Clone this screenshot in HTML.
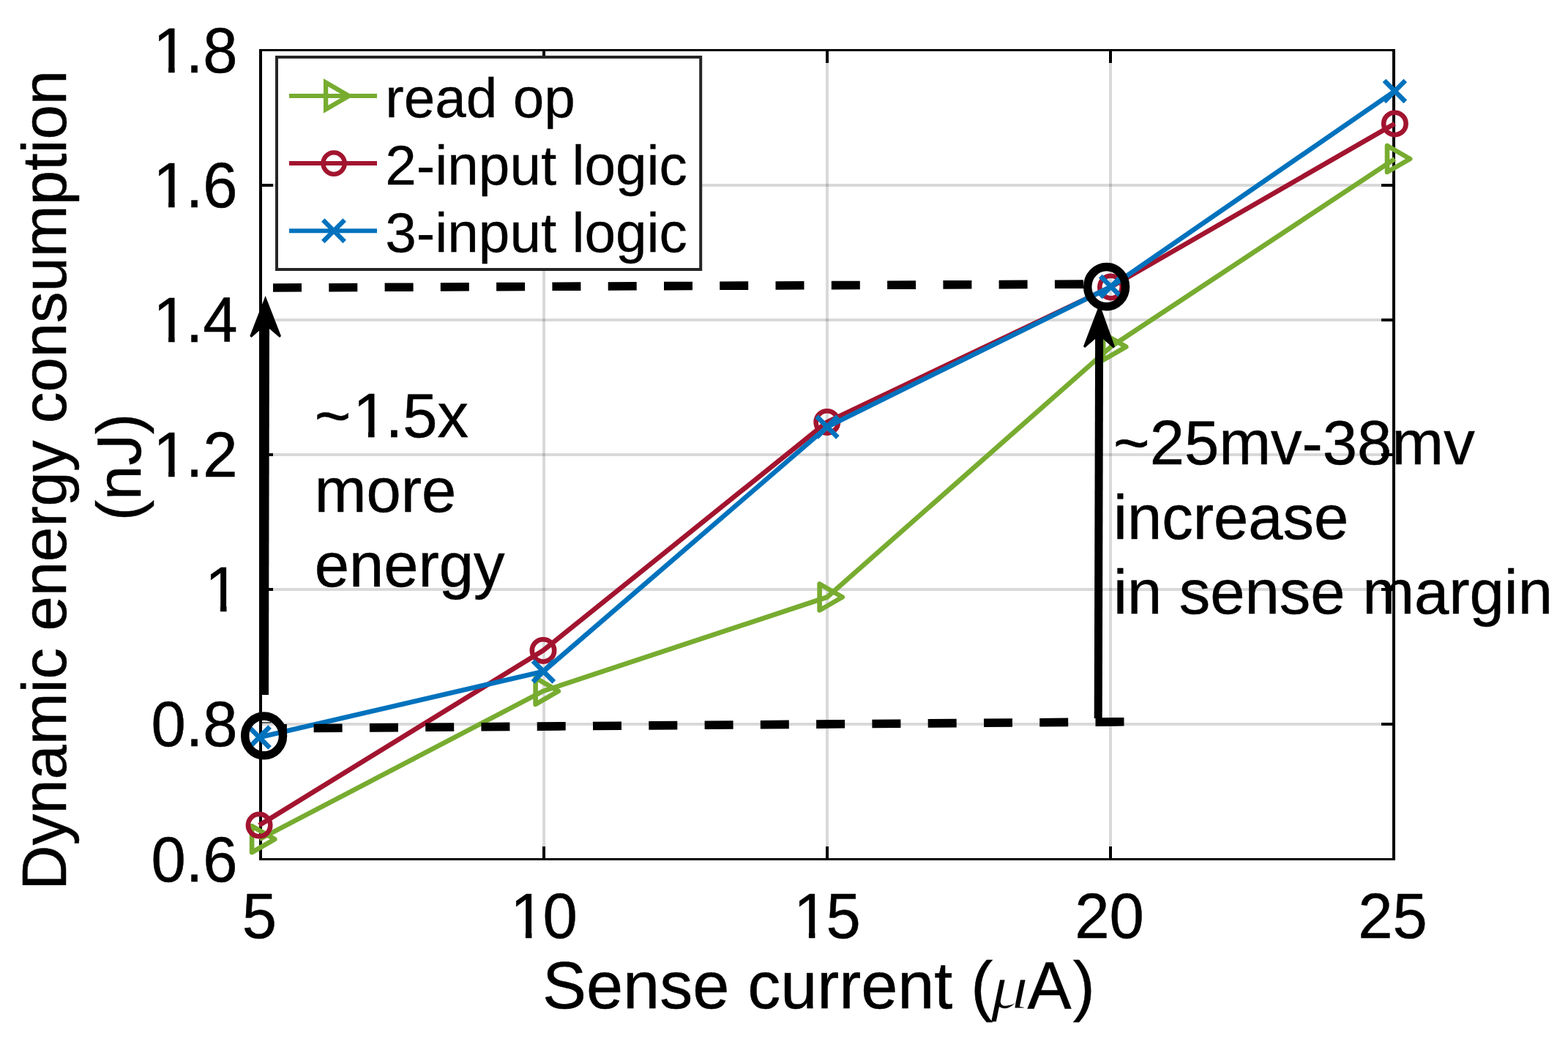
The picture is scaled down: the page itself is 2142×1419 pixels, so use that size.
<!DOCTYPE html>
<html lang="en"><head><meta charset="utf-8"><title>Dynamic energy consumption vs sense current</title>
<style>html,body{margin:0;padding:0;background:#fff;}body{width:2142px;height:1419px;overflow:hidden;}svg{display:block;}text{font-family:'Liberation Sans','DejaVu Sans',sans-serif;fill:#000;}</style>
</head><body>
<svg width="2142" height="1419" viewBox="0 0 2142 1419">
<rect x="0" y="0" width="2142" height="1419" fill="#fff"/>
<g fill="#000" fill-opacity="0.15">
<rect x="741" y="70" width="4" height="1102"/>
<rect x="1128" y="70" width="4" height="1102"/>
<rect x="1515" y="70" width="4" height="1102"/>
<rect x="358" y="251" width="1544" height="4"/>
<rect x="358" y="435" width="1544" height="4"/>
<rect x="358" y="619" width="1544" height="4"/>
<rect x="358" y="803" width="1544" height="4"/>
<rect x="358" y="987" width="1544" height="4"/>
</g>
<g fill="#000">
<rect x="354" y="67" width="4" height="1108"/>
<rect x="1902" y="67" width="4" height="1108"/>
<rect x="354" y="67" width="1552" height="3"/>
<rect x="354" y="1172" width="1552" height="3"/>
<rect x="741" y="1156" width="4" height="16"/>
<rect x="741" y="70" width="4" height="16"/>
<rect x="1128" y="1156" width="4" height="16"/>
<rect x="1128" y="70" width="4" height="16"/>
<rect x="1515" y="1156" width="4" height="16"/>
<rect x="1515" y="70" width="4" height="16"/>
<rect x="358" y="251" width="15" height="4"/>
<rect x="1887" y="251" width="15" height="4"/>
<rect x="358" y="435" width="15" height="4"/>
<rect x="1887" y="435" width="15" height="4"/>
<rect x="358" y="619" width="15" height="4"/>
<rect x="1887" y="619" width="15" height="4"/>
<rect x="358" y="803" width="15" height="4"/>
<rect x="1887" y="803" width="15" height="4"/>
<rect x="358" y="986.3" width="12.3" height="1.2"/>
<rect x="1887" y="987" width="15" height="4"/>
</g>
<g stroke="#77AC30" stroke-width="6.6" fill="none" stroke-linejoin="round">
<polyline points="354.5,1146.1 742.0,943.9 1130.0,815.5 1517.5,473.6 1905.4,217.0"/>
<polygon points="344.1,1128.1 344.1,1164.1 375.3,1146.1"/>
<polygon points="731.6,925.9 731.6,961.9 762.8,943.9"/>
<polygon points="1119.6,797.5 1119.6,833.5 1150.8,815.5"/>
<polygon points="1507.1,455.6 1507.1,491.6 1538.3,473.6"/>
<polygon points="1895.0,199.0 1895.0,235.0 1926.2,217.0"/>
</g>
<g stroke="#A2142F" stroke-width="6.6" fill="none" stroke-linejoin="round">
<polyline points="354.1,1127.1 742.0,888.4 1129.8,576.4 1517.5,392.0 1905.4,168.9"/>
<circle cx="354.1" cy="1127.1" r="15.2"/>
<circle cx="742.0" cy="888.4" r="15.2"/>
<circle cx="1129.8" cy="576.4" r="15.2"/>
<circle cx="1517.5" cy="392.0" r="15.2"/>
<circle cx="1905.4" cy="168.9" r="15.2"/>
</g>
<g stroke="#0072BD" stroke-width="6.6" fill="none" stroke-linejoin="round">
<polyline points="354.2,1007.0 742.4,917.0 1130.0,583.0 1517.7,391.5 1905.4,124.4"/>
<path d="M339.8 992.6L368.6 1021.4M339.8 1021.4L368.6 992.6"/>
<path d="M728.0 902.6L756.8 931.4M728.0 931.4L756.8 902.6"/>
<path d="M1115.6 568.6L1144.4 597.4M1115.6 597.4L1144.4 568.6"/>
<path d="M1503.3 377.1L1532.1 405.9M1503.3 405.9L1532.1 377.1"/>
<path d="M1891.0 110.0L1919.8 138.8M1891.0 138.8L1919.8 110.0"/>
</g>
<text transform="translate(330.86,1281.00) scale(1,1.030)" font-size="85" stroke="#000" stroke-width="0.50">5</text>
<g transform="translate(694.22,1281.00) scale(1,1.030)"><clipPath id="k1"><rect x="-30" y="-102.00" width="154.55" height="94.05"/><rect x="23.68" y="-8.95" width="8.51" height="10.95"/><rect x="47.28" y="-8.95" width="47.28" height="41.95"/></clipPath><text x="0" y="0" dx="2.80 -2.80" font-size="85" clip-path="url(#k1)" stroke="#000" stroke-width="0.50">10</text></g>
<g transform="translate(1081.22,1281.00) scale(1,1.030)"><clipPath id="k2"><rect x="-30" y="-102.00" width="154.55" height="94.05"/><rect x="23.68" y="-8.95" width="8.51" height="10.95"/><rect x="47.28" y="-8.95" width="47.28" height="41.95"/></clipPath><text x="0" y="0" dx="2.80 -2.80" font-size="85" clip-path="url(#k2)" stroke="#000" stroke-width="0.50">15</text></g>
<text transform="translate(1468.22,1281.00) scale(1,1.030)" font-size="85" stroke="#000" stroke-width="0.50">20</text>
<text transform="translate(1855.22,1281.00) scale(1,1.030)" font-size="85" stroke="#000" stroke-width="0.50">25</text>
<text transform="translate(206.43,1203.80) scale(1,1.030)" font-size="85" stroke="#000" stroke-width="0.50">0.6</text>
<text transform="translate(206.43,1019.30) scale(1,1.030)" font-size="85" stroke="#000" stroke-width="0.50">0.8</text>
<g transform="translate(277.32,835.30) scale(1,1.030)"><clipPath id="k3"><rect x="-30" y="-102.00" width="107.28" height="94.05"/><rect x="23.68" y="-8.95" width="8.51" height="10.95"/></clipPath><text x="0" y="0" dx="2.80" font-size="85" clip-path="url(#k3)" stroke="#000" stroke-width="0.50">1</text></g>
<g transform="translate(206.43,651.30) scale(1,1.030)"><clipPath id="k4"><rect x="-30" y="-102.00" width="178.17" height="94.05"/><rect x="23.68" y="-8.95" width="8.51" height="10.95"/><rect x="47.28" y="-8.95" width="23.61" height="41.95"/><rect x="70.89" y="-8.95" width="47.28" height="41.95"/></clipPath><text x="0" y="0" dx="2.80 -2.80 0.00" font-size="85" clip-path="url(#k4)" stroke="#000" stroke-width="0.50">1.2</text></g>
<g transform="translate(206.43,467.30) scale(1,1.030)"><clipPath id="k5"><rect x="-30" y="-102.00" width="178.17" height="94.05"/><rect x="23.68" y="-8.95" width="8.51" height="10.95"/><rect x="47.28" y="-8.95" width="23.61" height="41.95"/><rect x="70.89" y="-8.95" width="47.28" height="41.95"/></clipPath><text x="0" y="0" dx="2.80 -2.80 0.00" font-size="85" clip-path="url(#k5)" stroke="#000" stroke-width="0.50">1.4</text></g>
<g transform="translate(206.43,283.30) scale(1,1.030)"><clipPath id="k6"><rect x="-30" y="-102.00" width="178.17" height="94.05"/><rect x="23.68" y="-8.95" width="8.51" height="10.95"/><rect x="47.28" y="-8.95" width="23.61" height="41.95"/><rect x="70.89" y="-8.95" width="47.28" height="41.95"/></clipPath><text x="0" y="0" dx="2.80 -2.80 0.00" font-size="85" clip-path="url(#k6)" stroke="#000" stroke-width="0.50">1.6</text></g>
<g transform="translate(206.43,98.80) scale(1,1.030)"><clipPath id="k7"><rect x="-30" y="-102.00" width="178.17" height="94.05"/><rect x="23.68" y="-8.95" width="8.51" height="10.95"/><rect x="47.28" y="-8.95" width="23.61" height="41.95"/><rect x="70.89" y="-8.95" width="47.28" height="41.95"/></clipPath><text x="0" y="0" dx="2.80 -2.80 0.00" font-size="85" clip-path="url(#k7)" stroke="#000" stroke-width="0.50">1.8</text></g>
<text transform="translate(1353.2,1376.9) scale(1.2,1)" style="font-family:'Liberation Serif','DejaVu Serif',serif;font-style:italic" font-size="86" stroke="#fff" stroke-width="1.4">μ</text>
<text x="741" y="1376.9" font-size="90" stroke="#000" stroke-width="0.5">Sense current (</text>
<text x="1403.4" y="1376.9" dx="0 2.4" font-size="90" stroke="#000" stroke-width="0.5">A)</text>
<text transform="translate(90,655.9) rotate(-90)" font-size="85" text-anchor="middle" stroke="#000" stroke-width="0.50">Dynamic energy consumption</text>
<g transform="translate(192.1,638) rotate(-90)"><clipPath id="kj"><path clip-rule="evenodd" d="M-200 -120H200V60H-200Z M17.44 -60.48H30.19V-50.80H17.44Z"/></clipPath><text x="0" y="0" font-size="85" text-anchor="middle" stroke="#000" stroke-width="0.50" clip-path="url(#kj)">(nJ)</text></g>
<rect x="378" y="78" width="579.2" height="290" fill="#fff" stroke="#262626" stroke-width="4"/>
<g stroke="#77AC30" stroke-width="6.3" fill="none" stroke-linejoin="miter" stroke-miterlimit="10"><line x1="395" y1="131.0" x2="515" y2="131.0" stroke-width="6"/><polygon points="445.1,112.8 445.1,149.2 476.6,131.0"/></g>
<text x="526.3" y="159.9" font-size="76.5" stroke="#000" stroke-width="0.3">read op</text>
<g stroke="#A2142F" stroke-width="6.3" fill="none" stroke-linejoin="miter" stroke-miterlimit="10"><line x1="395" y1="223.1" x2="515" y2="223.1" stroke-width="6"/><circle cx="456.1" cy="223.1" r="14.7"/></g>
<text x="526.3" y="252.1" font-size="76.5" stroke="#000" stroke-width="0.3">2-input logic</text>
<g stroke="#0072BD" stroke-width="6.3" fill="none" stroke-linejoin="miter" stroke-miterlimit="10"><line x1="395" y1="315.3" x2="515" y2="315.3" stroke-width="6"/><path d="M441.3 300.6L470.7 330.0M441.3 330.0L470.7 300.6"/></g>
<text x="526.3" y="344.2" font-size="76.5" stroke="#000" stroke-width="0.3">3-input logic</text>
<g stroke="#000" fill="none">
<path d="M373.0 393.0L412.0 392.8M449.3 392.7L488.3 392.5M525.6 392.3L564.6 392.2M601.8 392.0L640.8 391.8M678.1 391.6L717.1 391.5M754.4 391.3L793.4 391.1M830.7 391.0L869.7 390.8M907.0 390.6L946.0 390.5M983.2 390.3L1022.2 390.1M1059.5 390.0L1098.5 389.8M1135.8 389.6L1174.8 389.5M1212.1 389.3L1251.1 389.1M1288.4 388.9L1327.4 388.8M1364.6 388.6L1403.6 388.4M1440.9 388.3L1479.9 388.1" stroke-width="11.6"/>
<path d="M428.6 994.5L467.6 994.2M504.9 993.9L543.9 993.6M581.2 993.3L620.2 993.0M657.4 992.7L696.4 992.4M733.7 992.1L772.7 991.8M810.0 991.5L849.0 991.2M886.3 990.9L925.3 990.6M962.6 990.3L1001.6 990.0M1038.8 989.7L1077.8 989.4M1115.1 989.1L1154.1 988.8M1191.4 988.5L1230.4 988.2M1267.7 987.9L1306.7 987.6M1344.0 987.3L1383.0 987.0M1420.2 986.7L1459.2 986.4M1496.5 986.1L1535.5 985.8" stroke-width="11.6"/>
<path d="M384 994.8L391.9 994.8" stroke-width="11.6"/>
<ellipse cx="360.6" cy="1004.9" rx="25.9" ry="26.9" stroke-width="11.5"/>
<ellipse cx="1511.6" cy="391.7" rx="25.9" ry="27.1" stroke-width="11.5"/>
<line x1="361.5" y1="949" x2="362.5" y2="445" stroke-width="11"/>
<line x1="1500.2" y1="981" x2="1501.6" y2="458" stroke-width="11"/>
</g>
<path d="M362.6 404 L384 459 L382 461 L368 449 L357 449 L343.5 461 L341.3 459 Z" fill="#000"/>
<path d="M1502.1 415 L1523 473.5 L1521 475.5 L1507 463 L1496 463 L1482 475 L1480 473 Z" fill="#000"/>
<g transform="translate(429.70,597.10) scale(1,1.000)"><clipPath id="k8"><rect x="-30" y="-102.00" width="270.31" height="94.05"/><rect x="0.00" y="-8.95" width="49.64" height="41.95"/><rect x="73.32" y="-8.95" width="8.51" height="10.95"/><rect x="96.92" y="-8.95" width="23.61" height="41.95"/><rect x="120.53" y="-8.95" width="47.28" height="41.95"/><rect x="167.81" y="-8.95" width="42.50" height="41.95"/></clipPath><text x="0" y="0" dx="0.00 2.80 -2.80 0.00 0.00" font-size="85" clip-path="url(#k8)" stroke="#000" stroke-width="0.50">~1.5x</text></g>
<text x="429.7" y="699.1" font-size="85" stroke="#000" stroke-width="0.50">more</text>
<text x="429.7" y="801.1" font-size="85" stroke="#000" stroke-width="0.50">energy</text>
<text x="1521.0" y="634.0" font-size="85" stroke="#000" stroke-width="0.50">~25mv-38mv</text>
<text x="1521.0" y="736.2" font-size="85" stroke="#000" stroke-width="0.50">increase</text>
<text x="1521.0" y="837.9" font-size="85" stroke="#000" stroke-width="0.50">in sense margin</text>
</svg>
</body></html>
